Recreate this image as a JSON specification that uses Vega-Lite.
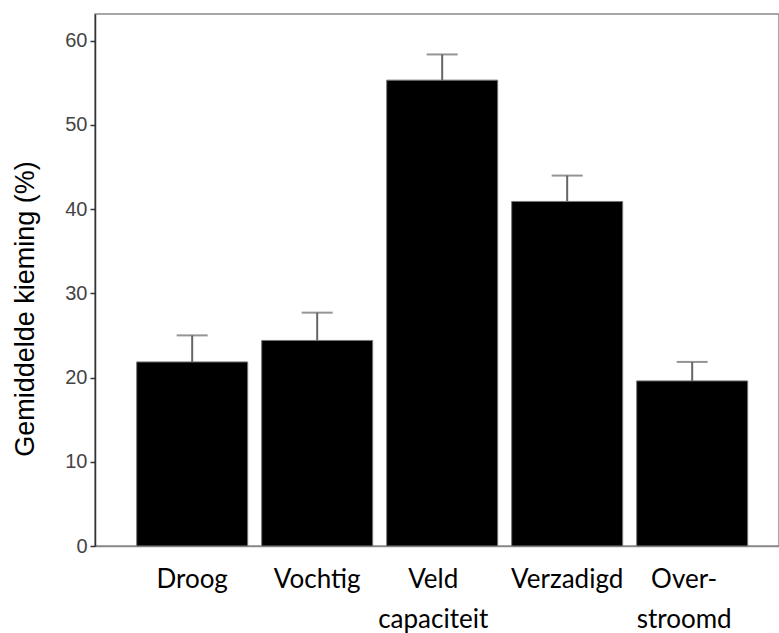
{
  "$schema": "https://vega.github.io/schema/vega-lite/v6.json",
  "autosize": "none",
  "padding": {"left": 95, "top": 14, "right": 0, "bottom": 87},
  "width": 684,
  "height": 532,
  "background": "white",
  "config": {
    "view": {"stroke": "#8a8a8a", "strokeWidth": 1.5},
    "axisY": {
      "grid": false,
      "domainColor": "#333333",
      "domainWidth": 1.5,
      "tickColor": "#333333",
      "tickWidth": 1.5,
      "tickSize": 5,
      "labelFont": "Liberation Sans",
      "labelFontSize": 20,
      "labelColor": "#444444",
      "labelPadding": 3,
      "titleFont": "Liberation Sans",
      "titleFontSize": 27,
      "titleFontWeight": "normal",
      "titleColor": "#000000",
      "titlePadding": 25
    }
  },
  "data": {
    "values": [
      {"conditie": "Droog", "kieming": 21.85, "boven": 25.0},
      {"conditie": "Vochtig", "kieming": 24.4, "boven": 27.7},
      {"conditie": "Veld capaciteit", "kieming": 55.3, "boven": 58.35},
      {"conditie": "Verzadigd", "kieming": 40.9, "boven": 43.97},
      {"conditie": "Overstroomd", "kieming": 19.6, "boven": 21.85}
    ]
  },
  "encoding": {
    "x": {
      "field": "conditie",
      "type": "nominal",
      "sort": null,
      "title": null,
      "scale": {"paddingInner": 0.112, "paddingOuter": 0.292, "align": 0.571},
      "axis": {
        "labelAngle": 0,
        "ticks": false,
        "tickSize": 0,
        "domainColor": "#8a8a8a",
        "domainWidth": 1.5,
        "labelFont": "Lato",
        "labelFontSize": 26,
        "labelColor": "#000000",
        "labelPadding": 20,
        "labelLineHeight": 40,
        "labelOverlap": false,
        "labelLimit": 0,
        "labelOffset": {
          "condition": [
            {"test": "datum.value == 'Veld capaciteit'", "value": -9},
            {"test": "datum.value == 'Overstroomd'", "value": -8}
          ],
          "value": 0
        },
        "labelExpr": "datum.value == 'Veld capaciteit' ? ['Veld', 'capaciteit'] : datum.value == 'Overstroomd' ? ['Over-', 'stroomd'] : datum.label"
      }
    }
  },
  "layer": [
    {
      "mark": {"type": "bar", "color": "#000000", "stroke": "#777777", "strokeWidth": 1},
      "encoding": {
        "y": {
          "field": "kieming",
          "type": "quantitative",
          "title": "Gemiddelde kieming (%)",
          "scale": {"domain": [0, 63.15], "nice": false},
          "axis": {"values": [0, 10, 20, 30, 40, 50, 60], "titleY": 294.5}
        }
      }
    },
    {
      "mark": {"type": "rule", "color": "#666666", "strokeWidth": 2},
      "encoding": {
        "y": {"field": "kieming", "type": "quantitative", "title": "Gemiddelde kieming (%)"},
        "y2": {"field": "boven"}
      }
    },
    {
      "mark": {"type": "tick", "color": "#666666", "thickness": 2, "size": 31},
      "encoding": {
        "y": {"field": "boven", "type": "quantitative", "title": "Gemiddelde kieming (%)"}
      }
    }
  ]
}
